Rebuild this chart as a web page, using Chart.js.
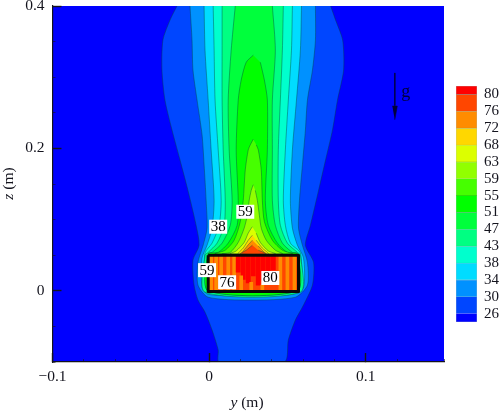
<!DOCTYPE html>
<html><head><meta charset="utf-8">
<script src="https://cdn.jsdelivr.net/npm/chart.js@4"></script>
<style>
html,body{margin:0;padding:0;background:#fff;overflow:hidden}
#wrap{position:relative;width:500px;height:411px}
canvas{position:absolute;display:block}
</style></head><body>
<div id="wrap">
<canvas id="main" width="500" height="411" style="left:0;top:0"></canvas>
<canvas id="bar" width="50" height="250" style="left:450px;top:80px"></canvas>
</div>
<script>
// Temperature levels on the colour bar and the colour of each band
const levels = [26,30,34,38,43,47,51,55,59,63,68,72,76,80];
const bandColors = ['rgb(0,0,255)','rgb(0,70,255)','rgb(0,145,255)','rgb(0,220,255)','rgb(0,255,205)','rgb(0,255,130)','rgb(0,255,60)','rgb(0,255,0)','rgb(70,255,0)','rgb(145,255,0)','rgb(220,255,0)','rgb(255,215,0)','rgb(255,140,0)','rgb(255,70,0)','rgb(255,0,0)'];

// Contour outlines, [y, z] in metres, one list per level
const c26 = [[-.0205,.400],[-.0250,.380],[-.0295,.352],[-.0301,.310],[-.0282,.268],[-.0237,.226],[-.0186,.184],[-.0135,.141],[-.0083,.092],[-.0064,.064],[-.0103,.043],[-.0096,.008],[-.0071,-.013],[-.0026,-.030],[.0019,-.055],[.0058,-.083],[.0064,-.100],
 [.0481,-.100],[.0506,-.069],[.0551,-.041],[.0603,-.020],[.0660,.008],[.0667,.040],[.0615,.064],[.0647,.092],[.0699,.141],[.0744,.184],[.0788,.226],[.0820,.268],[.0859,.310],[.0853,.352],[.0808,.380],[.0776,.400]];
const c30 = [[-.0122,.400],[-.0109,.352],[-.0103,.310],[-.0077,.268],[-.0045,.219],[-.0032,.177],[-.0019,.127],[-.0013,.088],[-.0038,.064],[-.0071,.040],[-.0071,.008],[-.0006,-.009],[.0263,-.013],[.0551,-.009],[.0628,.008],[.0628,.040],[.0596,.064],[.0571,.088],[.0577,.127],[.0596,.177],[.0615,.226],[.0628,.268],[.0660,.310],[.0679,.352],[.0679,.400]];
const c34 = [[-.0032,.400],[-.0026,.338],[-.0006,.268],[.0013,.198],[.0032,.127],[.0019,.088],[-.0013,.064],[-.0045,.046],[-.0045,.005],[-.0006,-.005],[.0263,-.007],[.0532,-.005],[.0603,.005],[.0603,.046],[.0564,.064],[.0532,.088],[.0519,.127],[.0532,.198],[.0558,.268],[.0583,.338],[.0590,.400]];
const c38 = [[.0026,.400],[.0032,.338],[.0038,.268],[.0058,.198],[.0077,.127],[.0064,.092],[.0019,.067],[-.0026,.053],[-.0032,.001],[-.0006,-.003],[.0564,-.003],[.0590,.001],[.0583,.053],[.0519,.067],[.0487,.092],[.0474,.127],[.0487,.198],[.0506,.268],[.0526,.338],[.0532,.400]];
const c43 = [[.0083,.400],[.0083,.338],[.0083,.268],[.0090,.198],[.0103,.127],[.0096,.092],[.0051,.067],[-.0006,.054],[-.0026,.050],[-.0026,-.002],[.0583,-.002],[.0583,.050],[.0564,.054],[.0500,.067],[.0455,.092],[.0442,.127],[.0442,.198],[.0455,.268],[.0468,.338],[.0474,.400]];
const c47 = [[.0167,.400],[.0141,.338],[.0122,.268],[.0128,.198],[.0147,.127],[.0135,.092],[.0083,.067],[.0019,.054],[-.0006,.052],[-.0006,0],[.0564,0],[.0564,.052],[.0532,.054],[.0468,.067],[.0423,.092],[.0404,.127],[.0404,.198],[.0404,.268],[.0423,.338],[.0404,.400]];
const c51 = [[.0282,.331],[.0237,.321],[.0205,.296],[.0186,.268],[.0173,.198],[.0186,.127],[.0179,.092],[.0122,.067],[.0058,.054],[-.0006,.052],[-.0006,0],[.0564,0],[.0564,.052],[.0500,.054],[.0436,.067],[.0378,.092],[.0359,.127],[.0372,.198],[.0372,.268],[.0353,.296],[.0327,.321]];
const c55 = [[.0282,.213],[.0263,.205],[.0250,.198],[.0231,.170],[.0218,.127],[.0199,.097],[.0160,.071],[.0103,.057],[.0038,.052],[.0532,.052],[.0468,.057],[.0404,.071],[.0353,.097],[.0340,.127],[.0333,.170],[.0314,.198],[.0301,.205]];
const c59 = [[.0282,.149],[.0269,.141],[.0256,.127],[.0244,.106],[.0224,.088],[.0186,.068],[.0135,.054],[.0083,.052],[.0468,.052],[.0423,.057],[.0365,.071],[.0333,.088],[.0321,.106],[.0308,.127],[.0295,.141]];
const c63 = [[.0276,.090],[.0250,.081],[.0224,.068],[.0173,.056],[.0135,.052],[.0423,.052],[.0378,.056],[.0327,.068],[.0301,.081]];
const c68 = [[.0276,.078],[.0250,.071],[.0218,.060],[.0186,.052],[.0378,.052],[.0340,.060],[.0301,.071]];
const c72 = [[.0276,.071],[.0244,.063],[.0212,.052],[.0353,.052],[.0314,.063]];
const c76 = [[.0276,.064],[.0237,.057],[.0199,.052],[.0365,.052],[.0314,.057]];
const contours = [c26,c30,c34,c38,c43,c47,c51,c55,c59,c63,c68,c72,c76];

// Plate block and the stripes inside it
const plotDomain = [[-.1,-.1],[.15,-.1],[.15,.4],[-.1,.4]];
const blockOutline = [[-.0006,.050],[.0571,.050],[.0571,-.001],[-.0006,-.001]];
const orangeStripeY = [.0013,.0045,.0077,.0122,.0160,.0455,.0500,.0545];
const redStripeY = [.0186,.0218,.0250,.0282,.0314,.0346,.0378,.0410];
const redStripeBottomZ = [.026,.016,.011,.021,.008,.015,.011,.029];
const wedgeY = [.0205,.0269,.0340];
const wedgeTopZ = [.021,.012,.008];
const blockTopZ = .050;
const blockBottomZ = 0;

// Gravity arrow
const arrowShaft = [[.1186,.306],[.1186,.26]];
const arrowHead = [[.1170,.2595],[.1202,.2595],[.1186,.240]];

// Labels written on the contours
const contourLabelText = ['59','38','59','76','80'];
const contourLabelY = [.0231,.0058,-.0013,.0115,.0391];
const contourLabelZ = [.111,.090,.029,.012,.018];

// Axis ticks
const xMajor = [-.1,0,.1];
const zMajor = [0,.2,.4];

const SERIF = '"Liberation Serif","DejaVu Serif",serif';
const INK = '#14141e';
const pts = a => a.map(p => ({x:p[0], y:p[1]}));
const noPad = s => { s.paddingTop=0; s.paddingBottom=0; s.paddingLeft=0; s.paddingRight=0; };
const shape = (a,color,order,line) => ({type:'scatter',showLine:true,data:pts(a),fill:'shape',backgroundColor:color,
  borderColor:line||'rgba(0,70,60,.42)',borderWidth:1,pointRadius:0,tension:.25,order});
const stripes = (xs,lo,hi,color,order,w) => ({type:'bar',grouped:false,barThickness:w,backgroundColor:color,borderWidth:0,order,
  data:xs.map((x,i)=>({x,y:[Array.isArray(lo)?lo[i]:lo, Array.isArray(hi)?hi[i]:hi]}))});

const datasets = [];
datasets.push(shape(plotDomain,bandColors[0],100,'rgba(0,0,0,0)'));
datasets[0].tension = 0;
contours.forEach((c,i)=>datasets.push(shape(c,bandColors[i+1],90-i)));
const base = shape(blockOutline,bandColors[13],40,'rgba(0,0,0,0)'); base.tension=0; datasets.push(base);
datasets.push(stripes(orangeStripeY,blockBottomZ,blockTopZ,bandColors[12],30,3));
datasets.push(stripes(redStripeY,redStripeBottomZ,blockTopZ,bandColors[14],29,4.2));
datasets.push(stripes(wedgeY,blockBottomZ,wedgeTopZ,bandColors[12],28,3));
datasets.push({type:'scatter',showLine:true,data:pts(blockOutline.concat([blockOutline[0]])),fill:false,borderColor:'#0a0a0a',borderWidth:3,borderJoinStyle:'round',pointRadius:0,tension:0,order:20});
datasets.push({type:'scatter',showLine:true,data:pts(arrowShaft),fill:false,borderColor:'rgba(0,0,70,.8)',borderWidth:1,pointRadius:0,order:10});
datasets.push({type:'scatter',showLine:true,data:pts(arrowHead),fill:'shape',backgroundColor:'#00003c',borderColor:'#00003c',borderWidth:.5,pointRadius:0,order:9});

const textPlugin = {id:'text',afterDraw(chart){
  const {ctx,scales:{x,y}} = chart;
  ctx.save();
  ctx.textBaseline='middle';
  ctx.textAlign='center';
  contourLabelText.forEach((t,i)=>{
    const px=x.getPixelForValue(contourLabelY[i]), py=y.getPixelForValue(contourLabelZ[i]);
    ctx.fillStyle='#fff'; ctx.fillRect(px-9,py-7,18,14);
    ctx.fillStyle='#000'; ctx.font='15px '+SERIF; ctx.fillText(t,px,py+.5);
  });
  ctx.fillStyle='#00003c'; ctx.font='18px '+SERIF;
  ctx.fillText('g',x.getPixelForValue(.1256),y.getPixelForValue(.279));
  // axis titles with an italic variable
  ctx.fillStyle=INK; ctx.textAlign='left'; ctx.textBaseline='alphabetic';
  const title=(v,rest,cx,cy,rot)=>{
    ctx.save(); ctx.translate(cx,cy); ctx.rotate(rot);
    ctx.font='italic 15.5px '+SERIF; const a=ctx.measureText(v).width;
    ctx.font='15.5px '+SERIF; const b=ctx.measureText(rest).width;
    ctx.font='italic 15.5px '+SERIF; ctx.fillText(v,-(a+b)/2,0);
    ctx.font='15.5px '+SERIF; ctx.fillText(rest,-(a+b)/2+a,0);
    ctx.restore();
  };
  title('y',' (m)',247,407,0);
  title('z',' (m)',13,183.5,-Math.PI/2);
  ctx.restore();
}};

new Chart(document.getElementById('main'),{
  type:'scatter',
  data:{datasets},
  plugins:[textPlugin],
  options:{
    responsive:false,animation:false,
    layout:{autoPadding:false,padding:{top:6,right:56,bottom:0,left:0}},
    plugins:{legend:{display:false},tooltip:{enabled:false},title:{display:false}},
    scales:{
      x:{type:'linear',position:'bottom',min:-.1,max:.15,weight:1,offset:false,
        afterBuildTicks:s=>{s.ticks=xMajor.map(value=>({value}));},
        afterFit:s=>{s.height=49;noPad(s);},
        grid:{offset:false,drawOnChartArea:false,drawTicks:true,tickLength:-9,tickColor:INK,tickWidth:1.4,z:2},
        border:{display:true,color:INK,width:1.2,z:2},
        ticks:{padding:15,maxRotation:0,autoSkip:false,color:INK,font:{family:SERIF,size:15.5},
          callback:v=>(v<0?'\u2212'+Math.abs(v):String(v))}},
      y:{type:'linear',position:'left',min:-.1,max:.4,weight:1,offset:false,beginAtZero:false,
        afterBuildTicks:s=>{s.ticks=zMajor.map(value=>({value}));},
        afterFit:s=>{s.width=52.5;noPad(s);},
        grid:{drawOnChartArea:false,drawTicks:true,tickLength:-9,tickColor:INK,tickWidth:1.4,z:2},
        border:{display:true,color:INK,width:1.2,z:2},
        ticks:{padding:17,autoSkip:false,color:INK,font:{family:SERIF,size:15.5},
          callback:v=>String(v)}},
      xMinor:{type:'linear',axis:'x',position:'bottom',min:-.1,max:.15,weight:-1,offset:false,
        afterFit:s=>{s.height=0;noPad(s);},
        grid:{offset:false,drawOnChartArea:false,tickLength:-3,tickColor:'rgba(20,20,30,.6)',tickWidth:1,z:2},
        border:{display:false},ticks:{display:false,stepSize:.02,autoSkip:false}},
      yMinor:{type:'linear',axis:'y',position:'left',min:-.1,max:.4,weight:-1,offset:false,
        afterFit:s=>{s.width=0;noPad(s);},
        grid:{drawOnChartArea:false,tickLength:-3,tickColor:'rgba(20,20,30,.6)',tickWidth:1,z:2},
        border:{display:false},ticks:{display:false,stepSize:.05,autoSkip:false}}
    }
  }
});

// Colour bar: each band sits between two neighbouring levels (indexed positions)
const barBands = bandColors.map((c,i)=>({
  type:'bar',grouped:false,barPercentage:1,categoryPercentage:1,
  backgroundColor:c,borderColor:'rgba(0,60,60,.35)',borderWidth:.6,
  data:[[Math.max(i-1,-.5),Math.min(i,levels.length-.5)]]
}));
new Chart(document.getElementById('bar'),{
  type:'bar',
  data:{labels:['T'],datasets:barBands},
  options:{
    responsive:false,animation:false,
    layout:{autoPadding:false,padding:{top:6,left:6,right:0,bottom:8}},
    plugins:{legend:{display:false},tooltip:{enabled:false}},
    scales:{
      x:{display:false},
      y:{position:'right',min:-.5,max:levels.length-.5,
        afterBuildTicks:s=>{s.ticks=levels.map((_,i)=>({value:i}));},
        afterFit:s=>{s.width=23;noPad(s);},
        grid:{display:false,drawTicks:false},border:{display:false},
        ticks:{padding:7,autoSkip:false,color:INK,font:{family:SERIF,size:15},callback:v=>String(levels[v])}}
    }
  }
});
</script>
</body></html>
